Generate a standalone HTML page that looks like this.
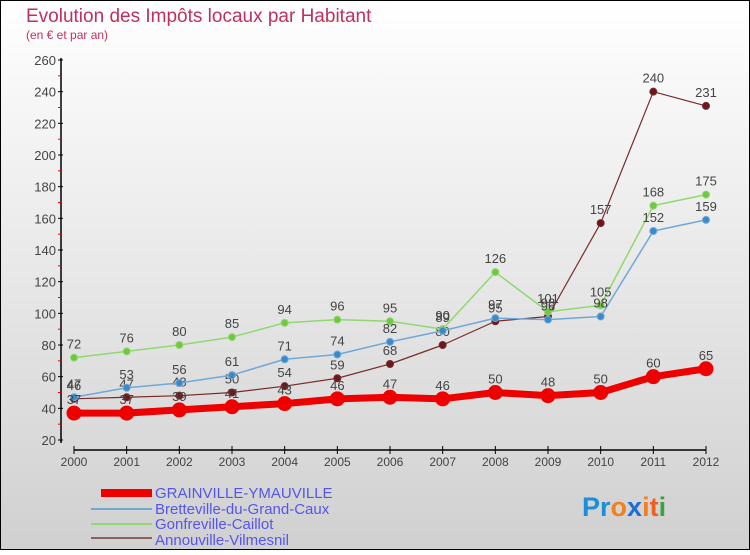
<!DOCTYPE html>
<html><head><meta charset="utf-8">
<style>
html,body{margin:0;padding:0}
body{width:750px;height:550px;overflow:hidden;font-family:"Liberation Sans",sans-serif}
</style></head>
<body>
<svg id="chart" width="750" height="550" xmlns="http://www.w3.org/2000/svg">
<defs>
<linearGradient id="bg" x1="0" y1="0" x2="0" y2="1">
<stop offset="0" stop-color="#ffffff"/><stop offset="1" stop-color="#d0d0d0"/>
</linearGradient>
</defs>
<rect x="0.5" y="0.5" width="749" height="549" fill="url(#bg)" stroke="#000"/>
<text x="26" y="22" font-size="19" fill="#c0305a">Evolution des Impôts locaux par Habitant</text>
<text x="26" y="39" font-size="12" fill="#c0305a">(en € et par an)</text>
<g id="axes"></g>
<g id="series"></g>
<g id="legend">
<rect x="101" y="489" width="51" height="8" fill="#ee0000"/>
<text x="155" y="498" font-size="15" fill="#5555ee">GRAINVILLE-YMAUVILLE</text>
<line x1="91" y1="509" x2="152" y2="509" stroke="#6fa8d0" stroke-width="2"/>
<text x="155" y="514" font-size="15" fill="#5555ee">Bretteville-du-Grand-Caux</text>
<line x1="91" y1="524" x2="152" y2="524" stroke="#90d870" stroke-width="2"/>
<text x="155" y="529" font-size="15" fill="#5555ee">Gonfreville-Caillot</text>
<line x1="91" y1="538" x2="152" y2="538" stroke="#906060" stroke-width="2"/>
<text x="155" y="545" font-size="15" fill="#5555ee">Annouville-Vilmesnil</text>
</g>
<g font-size="27" font-weight="bold">
<text x="582" y="516"><tspan fill="#1a8fd8">Pr</tspan><tspan fill="#f08020">o</tspan><tspan fill="#1a6fd8">x</tspan><tspan fill="#f08020">i</tspan><tspan fill="#f06020">t</tspan><tspan fill="#40a040">i</tspan></text>
</g>
</svg>
<script>
const years=[2000,2001,2002,2003,2004,2005,2006,2007,2008,2009,2010,2011,2012];
const grainville=[37,37,39,41,43,46,47,46,50,48,50,60,65];
const bretteville=[47,53,56,61,71,74,82,89,97,96,98,152,159];
const gonfreville=[72,76,80,85,94,96,95,90,126,101,105,168,175];
const annouville=[46,47,48,50,54,59,68,80,95,98,157,240,231];
const yTicks=[20,40,60,80,100,120,140,160,180,200,220,240,260];
const NS="http://www.w3.org/2000/svg";
function X(i){return 74+i*(632/12);}
function Y(v){return 440-(v-20)*(380/240);}
function mk(tag,attrs,parent){const e=document.createElementNS(NS,tag);for(const k in attrs)e.setAttribute(k,attrs[k]);parent.appendChild(e);return e;}
const axes=document.getElementById('axes');
const ya=mk('line',{x1:61,y1:58,x2:61,y2:443,stroke:'#000','stroke-width':1.5},axes);


yTicks.forEach((t,i)=>{
 const tk=mk('line',{x1:58,y1:Y(t),x2:63,y2:Y(t),stroke:'#000'},axes);
 
 
 if(i<yTicks.length-1){const m=mk('line',{x1:58,y1:Y(t+10),x2:61,y2:Y(t+10),stroke:'#e00'},axes);
  
  }
 const tx=mk('text',{x:56,y:Y(t)+5,'text-anchor':'end','font-size':13,fill:'#444'},axes);
 
 
 tx.textContent=t;
});
const xa=mk('line',{x1:74,y1:450,x2:706,y2:450,stroke:'#000','stroke-width':1.5},axes);


years.forEach((y,i)=>{
 const tk=mk('line',{x1:X(i),y1:446,x2:X(i),y2:454,stroke:'#000'},axes);
 
 
 const tx=mk('text',{x:X(i),y:466,'text-anchor':'middle','font-size':12,fill:'#444'},axes);
 
 
 tx.textContent=y;
});
const sg=document.getElementById('series');
function draw(name,vals,color,fill,w,r){
 const g=mk('g',{},sg);
 
 
 const pl=mk('polyline',{points:vals.map((v,i)=>X(i)+','+Y(v)).join(' '),fill:'none',stroke:color,'stroke-width':w,'stroke-linejoin':'round'},g);
 
 
 vals.forEach((v,i)=>{
  const c=mk('circle',{cx:X(i),cy:Y(v),r:r,fill:fill,stroke:color,'stroke-width':1},g);
  
  
  const t=mk('text',{x:X(i),y:Y(v)-9,'text-anchor':'middle','font-size':13,fill:'#444'},g);
  
  
  t.textContent=v;
 });
}
draw('annouville',annouville,'#7a2a2a','#6a1a1a',1.2,3.5);
draw('gonfreville',gonfreville,'#90d870','#70c840',1.5,3.5);
draw('bretteville',bretteville,'#6fa8d8','#3a8ac8',1.5,3.5);
draw('grainville',grainville,'#ee0000','#ee0000',7,7);
</script>
</body></html>
